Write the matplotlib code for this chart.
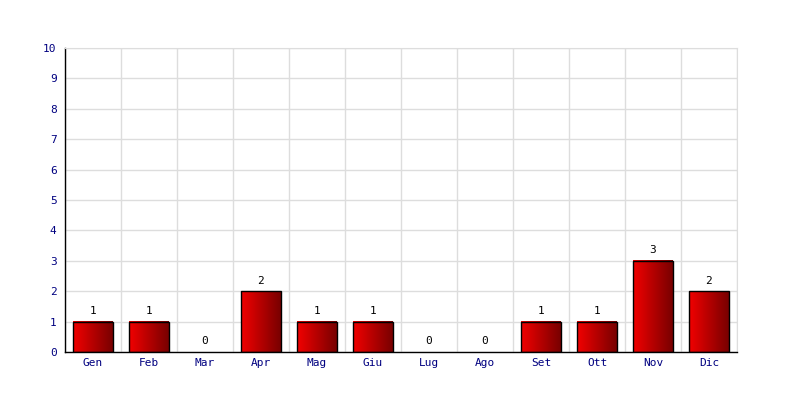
import numpy as np
import matplotlib
matplotlib.use('Agg')
import matplotlib.pyplot as plt
from matplotlib.colors import LinearSegmentedColormap

mesi = ['Gen', 'Feb', 'Mar', 'Apr', 'Mag', 'Giu', 'Lug', 'Ago', 'Set', 'Ott', 'Nov', 'Dic']
valori = [1, 1, 0, 2, 1, 1, 0, 0, 1, 1, 3, 2]

plt.rcParams['font.family'] = ['DejaVu Sans Mono']

fig = plt.figure(figsize=(8, 4), dpi=100)
ax = fig.add_axes([65/800, 48/400, 672/800, 304/400])

x = np.arange(len(mesi))
bars = ax.bar(x, valori, width=0.7, color='none', edgecolor='black', lw=1, zorder=3)

# riempimento sfumato rosso
cmap = LinearSegmentedColormap.from_list('rosso', [(0.95, 0, 0), (0.47, 0, 0)])
grad = np.linspace(0, 1, 256).reshape(1, -1)
for b in bars:
    h = b.get_height()
    if h <= 0:
        b.set_linewidth(0)
        continue
    x0 = b.get_x()
    ax.imshow(grad, cmap=cmap, aspect='auto', extent=(x0, x0 + b.get_width(), 0, h),
              zorder=2, interpolation='bilinear')

for xi, v in zip(x, valori):
    ax.annotate(str(v), (xi, v), xytext=(0, 4), textcoords='offset points',
                ha='center', va='bottom', fontsize=8, color='black')

ax.set_xlim(-0.5, len(mesi) - 0.5)
ax.set_ylim(0, 10)
ax.set_yticks(range(0, 11))
ax.set_xticks(x)
ax.set_xticklabels(mesi)
ax.set_xticks(np.arange(-0.5, len(mesi)), minor=True)
ax.grid(which='minor', axis='x', color='#dddddd', lw=1, zorder=0)
ax.grid(which='major', axis='y', color='#dddddd', lw=1, zorder=0)
ax.tick_params(axis='both', which='both', length=0, labelsize=8, labelcolor='#000080')
ax.tick_params(axis='y', pad=6)
ax.tick_params(axis='x', pad=4)

for s in ['top', 'right']:
    ax.spines[s].set_color('#dddddd')
for s in ['left', 'bottom']:
    ax.spines[s].set_color('black')
    ax.spines[s].set_linewidth(1)

fig.savefig('out.png', dpi=100)
